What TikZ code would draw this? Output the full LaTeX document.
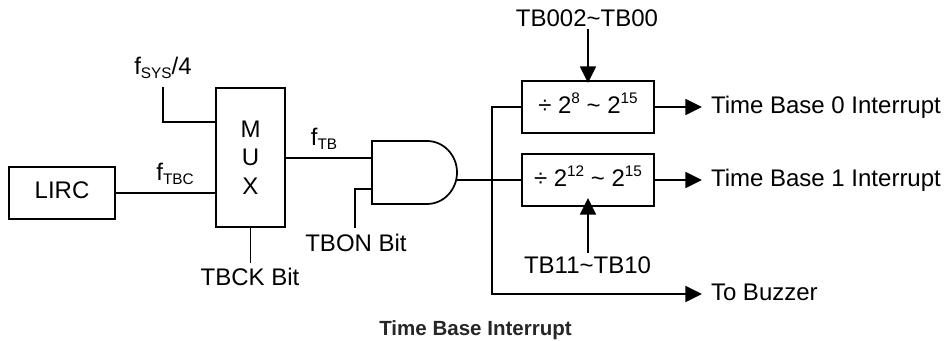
\documentclass[tikz,border=0pt]{standalone}
\usepackage{fontspec}
\setmainfont{Liberation Sans}
\usetikzlibrary{arrows.meta}
\newcommand\lowtxt[1]{\raisebox{-0.14em}{\fontsize{11.5}{12}\selectfont #1}}
\newcommand\uptxt[1]{\raisebox{0.42em}{\fontsize{11.5}{12}\selectfont #1}}
\tikzset{
  x=0.75pt,y=-0.75pt,
  wire/.style={line width=1.3pt,line join=miter,draw=black},
  arrowwire/.style={wire,-{Triangle[length=12.5pt,width=12pt]}},
  blockbox/.style={draw=black,line width=1.3pt,inner sep=0pt,outer sep=0pt,font=\fontsize{18}{21.4}\selectfont},
  lbl/.style={inner sep=0pt,outer sep=0pt,anchor=base,font=\fontsize{18}{21.4}\selectfont},
  lblw/.style={lbl,anchor=base west},
  captiontext/.style={inner sep=0pt,anchor=base,font=\fontsize{15.4}{18}\selectfont\bfseries,text=black!85}
}
\begin{document}
\begin{tikzpicture}
\useasboundingbox (0,0) rectangle (951,341);
% blocks
\node[blockbox,minimum width=79.5pt,minimum height=39pt,text height=9pt,text depth=0pt] (lirc) at (62,193) {LIRC};
\node[blockbox,minimum width=51.75pt,minimum height=104.25pt,align=center] (mux) at (250.5,157.5) {M\\U\\X};
\node[blockbox,minimum width=99pt,minimum height=39pt,text height=10.5pt,text depth=0pt] (box1) at (588,107) {÷ 2\uptxt{8} \textasciitilde{} 2\uptxt{15}};
\node[blockbox,minimum width=99pt,minimum height=39pt,text height=9.75pt,text depth=0pt] (box2) at (588,180) {÷ 2\uptxt{12} \textasciitilde{} 2\uptxt{15}};
\node[inner sep=0pt,outer sep=0pt,minimum width=63.75pt,minimum height=47.25pt] (andg) at (414.5,172.5) {};
\draw[wire] (andg.north west) -- ++(41.25pt,0pt) arc[start angle=90,end angle=-90,x radius=22.5pt,y radius=23.625pt] -- (andg.south west) -- cycle;
% labels
\node[lbl] (tbtop) at (587,27) {TB002\textasciitilde TB00};
\node[lbl] (tbbot) at (587.5,274) {TB11\textasciitilde TB10};
\node[lbl] (tbck) at (250,286) {TBCK Bit};
\node[lbl] (tbon) at (356,252) {TBON Bit};
\node[lbl] (ftbc) at (175,181) {f\lowtxt{TBC}};
\node[lbl] (ftb) at (324,146) {f\lowtxt{TB}};
\node[lbl] (fsys) at (163,75) {f\lowtxt{SYS}/4};
\node[lblw] (tb0) at (711,114) {Time Base 0 Interrupt};
\node[lblw] (tb1) at (711,187) {Time Base 1 Interrupt};
\node[lblw] (buzz) at (711,301) {To Buzzer};
\node[captiontext] (cap) at (475.5,336) {Time Base Interrupt};
% helper coordinates
\coordinate (fsysend) at (163,87);
\coordinate (muxin) at (216.75,122);
\coordinate (muxout) at (285,158);
\coordinate (tbckend) at (250.5,263);
\coordinate (tbonend) at (355,228);
\coordinate (tbonin) at (372,189);
\coordinate (andout) at (456,180);
\coordinate (junc) at (492,180);
\coordinate (buzzend) at (492,294);
\coordinate (topstart) at (588,29);
\coordinate (botstart) at (588,253);
% connectors
\draw[wire] (fsysend) |- (muxin);
\draw[wire] (lirc.east) -- (lirc.east -| mux.west);
\draw[wire] (mux.south) -- (tbckend);
\draw[wire] (muxout) -- (muxout -| andg.west);
\draw[wire] (tbonend) |- (tbonin);
\draw[wire] (andout) -- (box2.west);
\draw[arrowwire,shorten >=6.75pt] (box1.west) -| (junc) |- (buzzend -| buzz.west);
\draw[arrowwire,shorten >=6.75pt] (box1.east) -- (box1.east -| tb0.west);
\draw[arrowwire,shorten >=6.75pt] (box2.east) -- (box2.east -| tb1.west);
\draw[arrowwire,shorten >=-1.5pt] (topstart) -- (box1.north);
\draw[arrowwire,shorten >=-6pt] (botstart) -- (box2.south);
\end{tikzpicture}
\end{document}
